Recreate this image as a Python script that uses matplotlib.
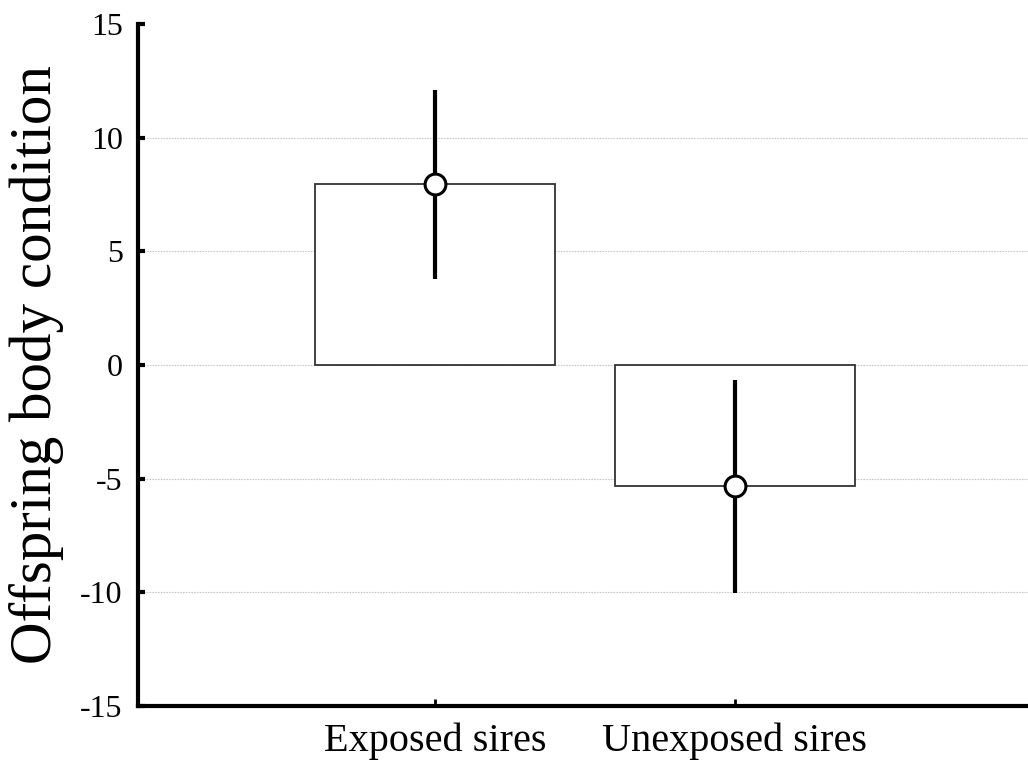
import matplotlib
matplotlib.use("Agg")
import matplotlib.pyplot as plt

# Group means and 95% confidence half-widths for offspring body condition
groups = ["Exposed sires", "Unexposed sires"]
means = [7.94, -5.34]
ci_half = [4.16, 4.67]
y_ticks = [-15, -10, -5, 0, 5, 10, 15]

plt.rcParams["font.family"] = ["Liberation Serif", "DejaVu Serif"]

fig = plt.figure(figsize=(10.28, 7.62), dpi=100)
ax = fig.add_axes([138 / 1028, 1 - 706 / 762, 1 - 138 / 1028, (706 - 24) / 762])

x = [1, 2]
ax.bar(x, means, width=0.8, color="white", edgecolor="#333333",
       linewidth=1.3, zorder=2)
ax.errorbar(x, means, yerr=ci_half, fmt="o", color="black", ecolor="black",
            elinewidth=3, capsize=0, markersize=15, markerfacecolor="white",
            markeredgecolor="black", markeredgewidth=2.2, zorder=3)

ax.set_xlim(0.01, 2.977)
ax.set_ylim(-15, 15)
ax.set_yticks(y_ticks)
ax.set_yticklabels([str(v) for v in y_ticks])
ax.set_xticks(x)
ax.set_xticklabels(groups)

# Dotted reference lines at the interior ticks only
for v in y_ticks[1:-1]:
    ax.axhline(v, color="#c8c8c8", linestyle=(0, (1.5, 1)), linewidth=0.8,
               zorder=0)

for side in ("top", "right"):
    ax.spines[side].set_visible(False)
for side in ("left", "bottom"):
    ax.spines[side].set_linewidth(3)
    ax.spines[side].set_color("black")

ax.tick_params(axis="y", direction="in", length=5, width=3, labelsize=23,
               pad=11)
ax.tick_params(axis="x", direction="in", length=5, width=2, labelsize=29,
               pad=12)

ax.set_ylabel("Offspring body condition", fontsize=42.5, labelpad=12)

fig.savefig("out.png", dpi=100)
